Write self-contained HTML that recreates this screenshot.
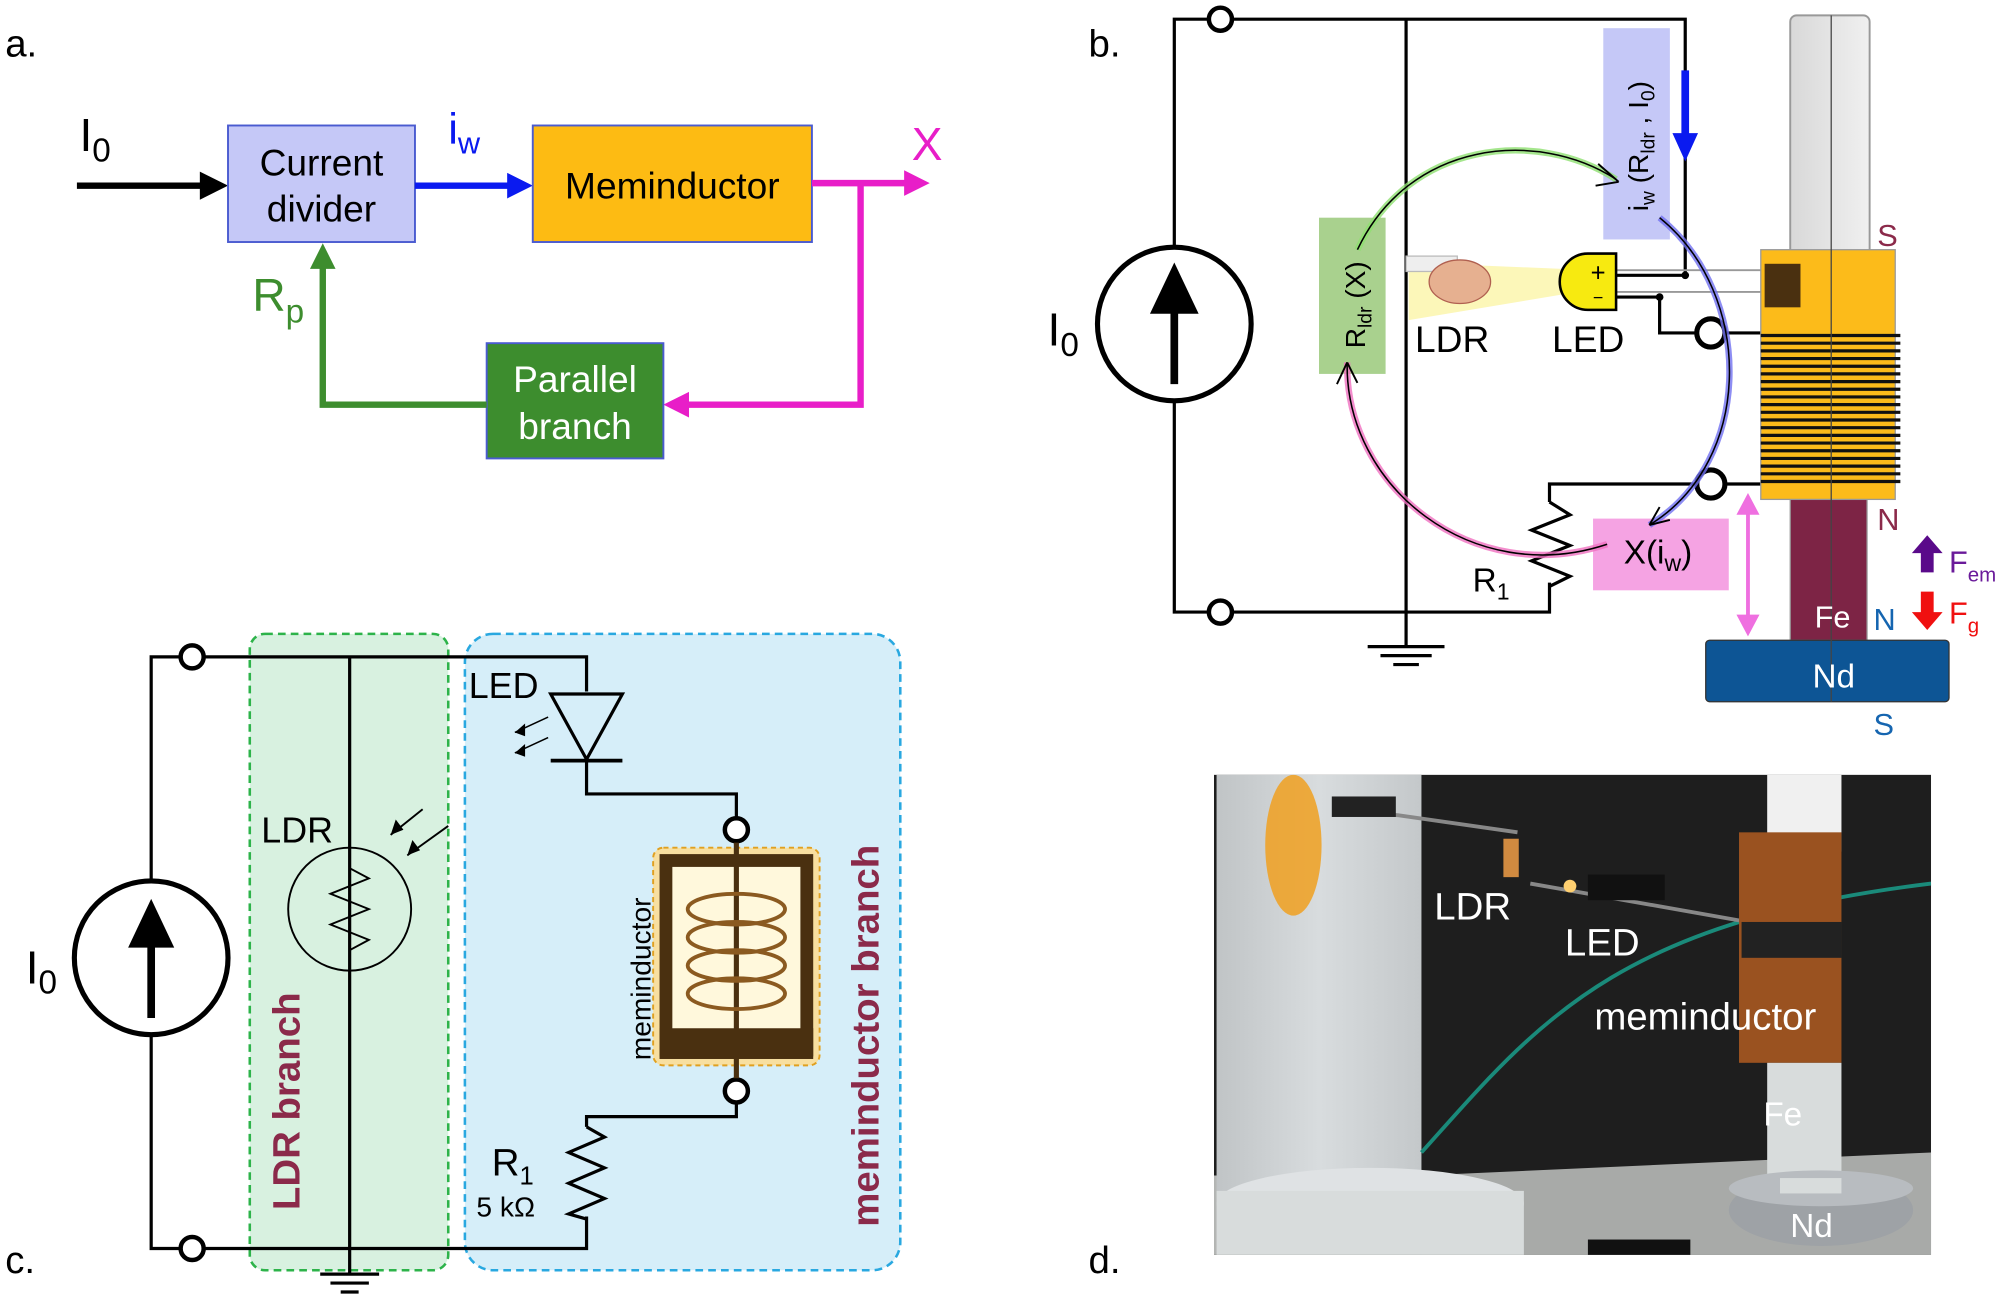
<!DOCTYPE html>
<html><head><meta charset="utf-8"><style>html,body{margin:0;padding:0;background:#fff}svg{display:block}text{font-family:"Liberation Sans",sans-serif}</style></head>
<body>
<svg width="2008" height="1301" viewBox="0 0 1568 1016" xmlns="http://www.w3.org/2000/svg">
<defs>
<linearGradient id="tb" x1="0" x2="1"><stop offset="0" stop-color="#d8d8d8"/><stop offset="1" stop-color="#f0f0f0"/></linearGradient>
<linearGradient id="pil" x1="0" x2="1"><stop offset="0" stop-color="#c0c4c6"/><stop offset="0.5" stop-color="#d8dcde"/><stop offset="1" stop-color="#c4c8ca"/></linearGradient>
<clipPath id="pc"><rect x="948" y="605" width="560" height="375"/></clipPath>
</defs>
<rect width="1568" height="1016" fill="#fff"/>
<!-- Panel a -->
<text x="4" y="44" font-size="30">a.</text>
<text x="62" y="118" font-size="36">I<tspan font-size="26" dy="8">0</tspan></text>
<line x1="60" y1="145" x2="160" y2="145" stroke="#000" stroke-width="5"/>
<path d="M178,145L156,134L156,156Z" fill="#000"/>
<rect x="178" y="98" width="146" height="91" fill="#c5c8f7" stroke="#4a5bd0" stroke-width="1.5"/>
<text x="251" y="137" font-size="29" text-anchor="middle">Current</text>
<text x="251" y="173" font-size="29" text-anchor="middle">divider</text>
<line x1="324" y1="145" x2="398" y2="145" stroke="#0a1af0" stroke-width="5"/>
<path d="M416,145L396,135L396,155Z" fill="#0a1af0"/>
<text x="350" y="112" font-size="34" fill="#0a1af0">i<tspan font-size="24" dy="8">w</tspan></text>
<rect x="416" y="98" width="218" height="91" fill="#fdbb13" stroke="#4a5bd0" stroke-width="1.5"/>
<text x="525" y="155" font-size="29" text-anchor="middle">Meminductor</text>
<polyline points="634,143 708,143" stroke="#e81ec8" stroke-width="5" fill="none"/>
<path d="M726,143L706,133L706,153Z" fill="#e81ec8"/>
<text x="712" y="125" font-size="36" fill="#e81ec8">X</text>
<polyline points="672,143 672,316 536,316" stroke="#e81ec8" stroke-width="5" fill="none"/>
<path d="M518,316L538,306L538,326Z" fill="#e81ec8"/>
<rect x="380" y="268" width="138" height="90" fill="#3d8d2e" stroke="#4a5bd0" stroke-width="1.5"/>
<text x="449" y="306" font-size="29" fill="#fff" text-anchor="middle">Parallel</text>
<text x="449" y="343" font-size="29" fill="#fff" text-anchor="middle">branch</text>
<polyline points="380,316 252,316 252,208" stroke="#3d8d2e" stroke-width="5" fill="none"/>
<path d="M252,190L242,210L262,210Z" fill="#3d8d2e"/>
<text x="197" y="243" font-size="36" fill="#3d8d2e">R<tspan font-size="26" dy="9">p</tspan></text>

<!-- Panel b -->
<text x="850" y="44" font-size="30">b.</text>
<g stroke="#000" stroke-width="2.5" fill="none">
<polyline points="917,193 917,15 944,15"/>
<polyline points="962,15 1316,15 1316,215 1262,215"/>
<polyline points="917,313 917,478 944,478"/>
<polyline points="962,478 1210,478 1210,455"/>
<polyline points="1210,392 1210,378 1326,378"/>
<polyline points="1210,392 1226,402 1196,414 1226,426 1196,438 1226,450 1210,458"/>
<line x1="1098" y1="15" x2="1098" y2="505"/>
<line x1="1068" y1="505" x2="1128" y2="505"/><line x1="1078" y1="512" x2="1118" y2="512"/><line x1="1088" y1="519" x2="1108" y2="519"/>
<polyline points="1262,232 1296,232 1296,260 1326,260"/>
<line x1="1346" y1="260" x2="1375" y2="260"/><line x1="1346" y1="378" x2="1375" y2="378"/>
</g>
<circle cx="1316" cy="215" r="3" fill="#000"/><circle cx="1296" cy="232" r="3" fill="#000"/>
<line x1="1262" y1="211" x2="1390" y2="211" stroke="#999" stroke-width="1.5"/>
<line x1="1262" y1="228" x2="1390" y2="228" stroke="#999" stroke-width="1.5"/>
<circle cx="953" cy="15" r="9" fill="#fff" stroke="#000" stroke-width="3.5"/>
<circle cx="953" cy="478" r="9" fill="#fff" stroke="#000" stroke-width="3.5"/>
<circle cx="1336" cy="260" r="11" fill="#fff" stroke="#000" stroke-width="4"/>
<circle cx="1336" cy="378" r="11" fill="#fff" stroke="#000" stroke-width="4"/>
<circle cx="917" cy="253" r="60" fill="#fff" stroke="#000" stroke-width="4"/>
<line x1="917" y1="300" x2="917" y2="235" stroke="#000" stroke-width="6"/>
<path d="M917,205L898,245L936,245Z" fill="#000"/>
<text x="818" y="270" font-size="36">I<tspan font-size="26" dy="8">0</tspan></text>
<rect x="1398" y="12" width="62" height="188" rx="5" fill="url(#tb)" stroke="#999" stroke-width="1.5"/>
<rect x="1398" y="388" width="60" height="112" fill="#7d2445" stroke="#999"/>
<rect x="1375" y="195" width="105" height="195" fill="#fcbb1a" stroke="#999"/>
<rect x="1378" y="206" width="28" height="34" fill="#4a3010"/>
<g stroke="#111" stroke-width="2.5">
<line x1="1375" y1="262" x2="1484" y2="262"/><line x1="1375" y1="268" x2="1484" y2="268"/><line x1="1375" y1="274" x2="1484" y2="274"/><line x1="1375" y1="280" x2="1484" y2="280"/><line x1="1375" y1="286" x2="1484" y2="286"/><line x1="1375" y1="292" x2="1484" y2="292"/><line x1="1375" y1="298" x2="1484" y2="298"/><line x1="1375" y1="304" x2="1484" y2="304"/><line x1="1375" y1="310" x2="1484" y2="310"/><line x1="1375" y1="316" x2="1484" y2="316"/><line x1="1375" y1="322" x2="1484" y2="322"/><line x1="1375" y1="328" x2="1484" y2="328"/><line x1="1375" y1="334" x2="1484" y2="334"/><line x1="1375" y1="340" x2="1484" y2="340"/><line x1="1375" y1="346" x2="1484" y2="346"/><line x1="1375" y1="352" x2="1484" y2="352"/><line x1="1375" y1="358" x2="1484" y2="358"/><line x1="1375" y1="364" x2="1484" y2="364"/><line x1="1375" y1="370" x2="1484" y2="370"/><line x1="1375" y1="376" x2="1484" y2="376"/>
</g>
<rect x="1332" y="500" width="190" height="48" rx="3" fill="#0d5595" stroke="#333"/>
<line x1="1430" y1="12" x2="1430" y2="548" stroke="#444" stroke-width="1"/>
<text x="1432" y="537" font-size="26" fill="#fff" text-anchor="middle">Nd</text>
<text x="1417" y="490" font-size="24" fill="#fff">Fe</text>
<text x="1466" y="192" font-size="24" fill="#8b2a4a">S</text>
<text x="1466" y="414" font-size="24" fill="#8b2a4a">N</text>
<text x="1463" y="492" font-size="24" fill="#1565b0">N</text>
<text x="1463" y="574" font-size="24" fill="#1565b0">S</text>
<line x1="1365" y1="400" x2="1365" y2="482" stroke="#ef6fe0" stroke-width="3"/>
<path d="M1365,385L1356,402L1374,402Z M1365,497L1356,480L1374,480Z" fill="#ef6fe0"/>
<path d="M1505,418L1493,432L1500,432L1500,447L1510,447L1510,432L1517,432Z" fill="#5a0a8a"/>
<text x="1522" y="447" font-size="24" fill="#6a1a9a">F<tspan font-size="16" dy="7">em</tspan></text>
<path d="M1505,492L1493,478L1500,478L1500,462L1510,462L1510,478L1517,478Z" fill="#f01010"/>
<text x="1522" y="487" font-size="24" fill="#f01010">F<tspan font-size="16" dy="7">g</tspan></text>
<rect x="1252" y="22" width="52" height="165" fill="#c5c8f7"/>
<text transform="translate(1287,165) rotate(-90)" font-size="22">i<tspan font-size="15" dy="5">w</tspan><tspan dy="-5"> (R</tspan><tspan font-size="15" dy="5">ldr</tspan><tspan dy="-5"> , I</tspan><tspan font-size="15" dy="5">0</tspan><tspan dy="-5">)</tspan></text>
<line x1="1316" y1="55" x2="1316" y2="105" stroke="#0a1af0" stroke-width="6"/>
<path d="M1316,126L1306,104L1326,104Z" fill="#0a1af0"/>
<rect x="1030" y="170" width="52" height="122" fill="#a9d18e"/>
<text transform="translate(1066,272) rotate(-90)" font-size="22">R<tspan font-size="15" dy="5">ldr</tspan><tspan dy="-5"> (X)</tspan></text>
<path d="M1100,205L1220,210L1220,230L1100,250Z" fill="#fbf5a8" opacity="0.8"/>
<rect x="1098" y="200" width="40" height="12" fill="#eee" stroke="#bbb"/>
<ellipse cx="1140" cy="220" rx="24" ry="17" fill="#e6b090" stroke="#b06050"/>
<path d="M1240,198L1262,198L1262,242L1240,242A22,22 0 0 1 1240,198Z" fill="#f7ea10" stroke="#000" stroke-width="2"/>
<text x="1248" y="220" font-size="20" text-anchor="middle">+</text>
<text x="1248" y="237" font-size="14" text-anchor="middle">−</text>
<text x="1105" y="275" font-size="29">LDR</text>
<text x="1212" y="275" font-size="29">LED</text>
<rect x="1244" y="405" width="106" height="56" fill="#f5a3e3"/>
<text x="1268" y="440" font-size="26">X(i<tspan font-size="18" dy="6">w</tspan><tspan dy="-6">)</tspan></text>
<text x="1150" y="462" font-size="26">R<tspan font-size="18" dy="6">1</tspan></text>
<path d="M1060,195C1100,110 1200,100 1262,140" stroke="#8fe070" stroke-width="5" fill="none" opacity="0.8"/>
<path d="M1060,195C1100,110 1200,100 1262,140" stroke="#000" stroke-width="1.2" fill="none"/>
<path d="M1264,142L1248,128M1264,142L1246,145" stroke="#000" stroke-width="1.5"/>
<path d="M1255,425C1150,460 1050,380 1052,283" stroke="#f070c0" stroke-width="5" fill="none" opacity="0.8"/>
<path d="M1255,425C1150,460 1050,380 1052,283" stroke="#000" stroke-width="1.2" fill="none"/>
<path d="M1052,283L1044,300M1052,283L1060,299" stroke="#000" stroke-width="1.5"/>
<path d="M1296,170C1370,230 1370,360 1288,410" stroke="#7070f0" stroke-width="5" fill="none" opacity="0.8"/>
<path d="M1296,170C1370,230 1370,360 1288,410" stroke="#000" stroke-width="1.2" fill="none"/>
<path d="M1288,410L1296,396M1288,410L1304,406" stroke="#000" stroke-width="1.5"/>

<!-- Panel c -->
<text x="4" y="994" font-size="30">c.</text>
<rect x="195" y="495" width="155" height="497" rx="12" fill="#d8f1e0" stroke="#2db34a" stroke-width="2" stroke-dasharray="6,4"/>
<rect x="363" y="495" width="340" height="497" rx="22" fill="#d6eef9" stroke="#29a8e0" stroke-width="2" stroke-dasharray="6,4"/>
<g stroke="#000" stroke-width="2.5" fill="none">
<polyline points="118,688 118,513 140,513"/>
<polyline points="118,808 118,975 140,975"/>
<polyline points="160,513 458,513 458,540"/>
<polyline points="160,975 458,975 458,950"/>
<polyline points="458,593 458,620 575,620 575,638"/>
<polyline points="575,862 575,872 458,872 458,880"/>
<polyline points="458,880 472,888 444,900 472,912 444,924 472,936 444,948 458,952"/>
<line x1="273" y1="513" x2="273" y2="995"/>
<line x1="250" y1="995" x2="296" y2="995"/><line x1="258" y1="1002" x2="288" y2="1002"/><line x1="266" y1="1009" x2="280" y2="1009"/>
<circle cx="273" cy="710" r="48" stroke-width="1.5"/>
<polyline points="273,668 273,678 288,686 258,698 288,710 258,722 288,734 273,742 273,752" stroke-width="1.5"/>
<path d="M350,645L318,668M330,632L305,652" stroke-width="1.5"/>
<path d="M428,560L402,572M428,576L402,588" stroke-width="1.2"/>
</g>
<path d="M318,668L322,656L328,664Z M305,652L309,640L315,648Z M402,572L410,565L410,575Z M402,588L410,581L410,591Z" fill="#000"/>
<path d="M430,542L486,542L458,593Z" fill="none" stroke="#000" stroke-width="2.5"/>
<line x1="430" y1="594" x2="486" y2="594" stroke="#000" stroke-width="3"/>
<circle cx="150" cy="513" r="9" fill="#fff" stroke="#000" stroke-width="3.5"/>
<circle cx="150" cy="975" r="9" fill="#fff" stroke="#000" stroke-width="3.5"/>
<circle cx="575" cy="648" r="9" fill="#fff" stroke="#000" stroke-width="3.5"/>
<circle cx="575" cy="852" r="9" fill="#fff" stroke="#000" stroke-width="3.5"/>
<circle cx="118" cy="748" r="60" fill="#fff" stroke="#000" stroke-width="4"/>
<line x1="118" y1="795" x2="118" y2="730" stroke="#000" stroke-width="6"/>
<path d="M118,702L100,740L136,740Z" fill="#000"/>
<text x="20" y="768" font-size="36">I<tspan font-size="26" dy="8">0</tspan></text>
<rect x="510" y="662" width="130" height="170" rx="8" fill="#f8dfa0" stroke="#e0a020" stroke-width="1.5" stroke-dasharray="4,3"/>
<rect x="520" y="672" width="110" height="150" fill="#fff8dc" stroke="#4a3010" stroke-width="10"/>
<rect x="515" y="803" width="120" height="22" fill="#4a3010"/>
<line x1="575" y1="658" x2="575" y2="842" stroke="#4a3010" stroke-width="4"/>
<g fill="none" stroke="#8b5a20" stroke-width="3">
<ellipse cx="575" cy="710" rx="38" ry="12"/><ellipse cx="575" cy="732" rx="38" ry="12"/><ellipse cx="575" cy="754" rx="38" ry="12"/><ellipse cx="575" cy="776" rx="38" ry="12"/>
</g>
<text x="366" y="545" font-size="28">LED</text>
<text x="204" y="658" font-size="28">LDR</text>
<text transform="translate(508,828) rotate(-90)" font-size="22">meminductor</text>
<text transform="translate(234,945) rotate(-90)" font-size="30" font-weight="bold" fill="#8b2a4a">LDR branch</text>
<text transform="translate(686,958) rotate(-90)" font-size="30" font-weight="bold" fill="#8b2a4a">meminductor branch</text>
<text x="384" y="918" font-size="30">R<tspan font-size="20" dy="7">1</tspan></text>
<text x="372" y="950" font-size="22">5 kΩ</text>

<!-- Panel d -->
<text x="850" y="994" font-size="30">d.</text>
<g clip-path="url(#pc)">
<rect x="948" y="605" width="560" height="375" fill="#1e1e1e"/>
<rect x="948" y="918" width="560" height="62" fill="#b4b6b4"/>
<path d="M1110,918L1508,900L1508,980L1110,980Z" fill="#a8aaa8"/>
<rect x="950" y="605" width="160" height="330" fill="url(#pil)"/>
<ellipse cx="1010" cy="660" rx="22" ry="55" fill="#f0a020" opacity="0.85"/>
<ellipse cx="1070" cy="940" rx="120" ry="28" fill="#dfe2e4"/>
<rect x="950" y="930" width="240" height="50" fill="#d8dcdc"/>
<rect x="1240" y="968" width="80" height="14" fill="#111"/>
<path d="M1110,900C1200,800 1260,720 1508,690" stroke="#1a8a7a" stroke-width="3" fill="none"/>
<path d="M1045,630L1185,650M1195,690L1365,720" stroke="#888" stroke-width="3"/>
<rect x="1040" y="622" width="50" height="16" fill="#222"/>
<rect x="1174" y="655" width="12" height="30" fill="#d08a40"/>
<circle cx="1226" cy="692" r="5" fill="#ffd070"/>
<rect x="1240" y="683" width="60" height="20" fill="#111"/>
<rect x="1380" y="605" width="58" height="60" fill="#f0f0f0"/>
<rect x="1358" y="650" width="80" height="180" fill="#9a5220"/>
<rect x="1360" y="720" width="78" height="28" fill="#222"/>
<rect x="1380" y="830" width="58" height="100" fill="#d8dcdc"/>
<ellipse cx="1422" cy="945" rx="72" ry="28" fill="#9ea2a6"/>
<ellipse cx="1422" cy="928" rx="72" ry="14" fill="#b8bcc0"/>
<rect x="1390" y="920" width="48" height="12" fill="#d8dcdc"/>
</g>
<text x="1120" y="718" font-size="30" fill="#fff">LDR</text>
<text x="1222" y="746" font-size="30" fill="#fff">LED</text>
<text x="1245" y="804" font-size="30" fill="#fff">meminductor</text>
<text x="1377" y="879" font-size="26" fill="#fff">Fe</text>
<text x="1398" y="966" font-size="26" fill="#fff">Nd</text>
</svg>
</body></html>
